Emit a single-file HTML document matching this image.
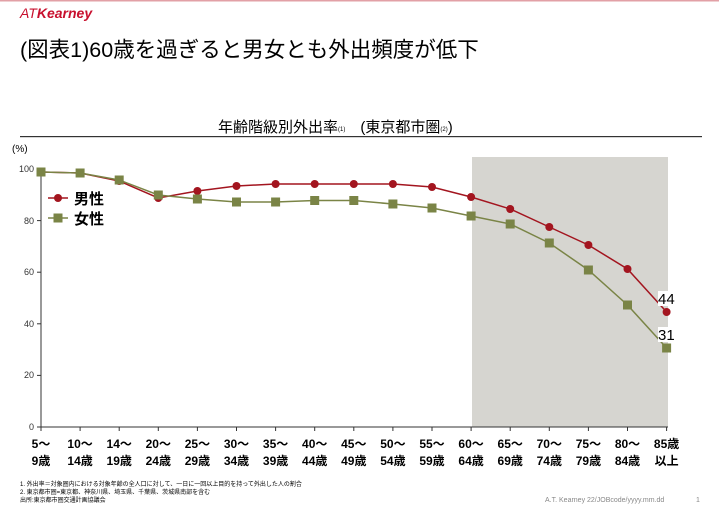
<!DOCTYPE html>
<html><head><meta charset="utf-8"><style>
html,body{margin:0;padding:0;background:#fff;}
body{width:719px;height:515px;overflow:hidden;position:relative;font-family:"Liberation Sans","Noto Sans CJK JP",sans-serif;}
</style></head><body>
<svg width="719" height="515" viewBox="0 0 719 515" xmlns="http://www.w3.org/2000/svg" style="position:absolute;left:0;top:0;font-family:'Liberation Sans','Noto Sans CJK JP',sans-serif">
<rect x="0" y="0" width="719" height="1.5" fill="#e2a0a6"/>
<text x="20" y="18" font-size="14" font-style="italic" fill="#c8102e">AT<tspan font-weight="bold">Kearney</tspan></text>
<text x="20" y="57" font-size="21.5" fill="#000">(図表1)60歳を過ぎると男女とも外出頻度が低下</text>
<text x="218" y="132" font-size="15" fill="#000">年齢階級別外出率<tspan font-size="6" dy="-1">(1)</tspan><tspan dy="1">　(東京都市圏</tspan><tspan font-size="6" dy="-1">(2)</tspan><tspan dy="1">)</tspan></text>
<rect x="20" y="136" width="682" height="1.2" fill="#333"/>
<text x="12" y="152" font-size="10" fill="#000">(%)</text>
<rect x="472" y="157" width="196" height="270" fill="#d6d5d0"/>
<g stroke="#333" stroke-width="1">
<line x1="41" y1="169" x2="41" y2="427"/>
<line x1="41" y1="427" x2="668" y2="427"/>
<line x1="37" y1="169" x2="41" y2="169"/><line x1="37" y1="220.6" x2="41" y2="220.6"/><line x1="37" y1="272.2" x2="41" y2="272.2"/><line x1="37" y1="323.8" x2="41" y2="323.8"/><line x1="37" y1="375.4" x2="41" y2="375.4"/><line x1="37" y1="427" x2="41" y2="427"/>
</g>
<g font-size="9" fill="#333" text-anchor="end">
<text x="34" y="172">100</text><text x="34" y="224">80</text><text x="34" y="275">60</text><text x="34" y="327">40</text><text x="34" y="378">20</text><text x="34" y="430">0</text>
</g>
<polyline fill="none" stroke="#a3151f" stroke-width="1.5" points="41,172 80.1,173 119.2,181 158.3,198 197.4,191 236.5,186 275.6,184 314.7,184 353.8,184 392.9,184 432,187 471.1,197 510.2,209 549.3,227 588.4,245 627.5,269 666.6,312"/>
<polyline fill="none" stroke="#7a8446" stroke-width="1.5" points="41,172 80.1,173 119.2,180 158.3,195 197.4,199 236.5,202 275.6,202 314.7,200.5 353.8,200.5 392.9,204 432,208 471.1,216 510.2,224 549.3,243 588.4,270 627.5,305 666.6,348"/>
<g fill="#a3151f">
<circle cx="41" cy="172" r="4"/><circle cx="80.1" cy="173" r="4"/><circle cx="119.2" cy="181" r="4"/><circle cx="158.3" cy="198" r="4"/><circle cx="197.4" cy="191" r="4"/><circle cx="236.5" cy="186" r="4"/><circle cx="275.6" cy="184" r="4"/><circle cx="314.7" cy="184" r="4"/><circle cx="353.8" cy="184" r="4"/><circle cx="392.9" cy="184" r="4"/><circle cx="432" cy="187" r="4"/><circle cx="471.1" cy="197" r="4"/><circle cx="510.2" cy="209" r="4"/><circle cx="549.3" cy="227" r="4"/><circle cx="588.4" cy="245" r="4"/><circle cx="627.5" cy="269" r="4"/><circle cx="666.6" cy="312" r="4"/>
</g>
<g fill="#7a8446">
<rect x="36.5" y="167.5" width="9" height="9"/><rect x="75.6" y="168.5" width="9" height="9"/><rect x="114.7" y="175.5" width="9" height="9"/><rect x="153.8" y="190.5" width="9" height="9"/><rect x="192.9" y="194.5" width="9" height="9"/><rect x="232" y="197.5" width="9" height="9"/><rect x="271.1" y="197.5" width="9" height="9"/><rect x="310.2" y="196" width="9" height="9"/><rect x="349.3" y="196" width="9" height="9"/><rect x="388.4" y="199.5" width="9" height="9"/><rect x="427.5" y="203.5" width="9" height="9"/><rect x="466.6" y="211.5" width="9" height="9"/><rect x="505.7" y="219.5" width="9" height="9"/><rect x="544.8" y="238.5" width="9" height="9"/><rect x="583.9" y="265.5" width="9" height="9"/><rect x="623" y="300.5" width="9" height="9"/><rect x="662.1" y="343.5" width="9" height="9"/>
</g>
<rect x="658" y="291" width="18" height="15" fill="#fff"/>
<text x="658" y="304" font-size="15" fill="#000">44</text>
<rect x="658" y="327" width="18" height="15" fill="#fff"/>
<text x="658" y="340" font-size="15" fill="#000">31</text>
<line x1="48" y1="198" x2="68" y2="198" stroke="#a3151f" stroke-width="1.5"/><circle cx="58" cy="198" r="4" fill="#a3151f"/>
<text x="74" y="204" font-size="15" font-weight="bold" fill="#000">男性</text>
<line x1="48" y1="218" x2="68" y2="218" stroke="#7a8446" stroke-width="1.5"/><rect x="53.5" y="213.5" width="9" height="9" fill="#7a8446"/>
<text x="74" y="224" font-size="15" font-weight="bold" fill="#000">女性</text>
<g font-size="12" font-weight="bold" fill="#000" text-anchor="middle">
<text x="41" y="448">5～</text><text x="41" y="465">9歳</text>
<text x="80.1" y="448">10～</text><text x="80.1" y="465">14歳</text>
<text x="119.2" y="448">14～</text><text x="119.2" y="465">19歳</text>
<text x="158.3" y="448">20～</text><text x="158.3" y="465">24歳</text>
<text x="197.4" y="448">25～</text><text x="197.4" y="465">29歳</text>
<text x="236.5" y="448">30～</text><text x="236.5" y="465">34歳</text>
<text x="275.6" y="448">35～</text><text x="275.6" y="465">39歳</text>
<text x="314.7" y="448">40～</text><text x="314.7" y="465">44歳</text>
<text x="353.8" y="448">45～</text><text x="353.8" y="465">49歳</text>
<text x="392.9" y="448">50～</text><text x="392.9" y="465">54歳</text>
<text x="432" y="448">55～</text><text x="432" y="465">59歳</text>
<text x="471.1" y="448">60～</text><text x="471.1" y="465">64歳</text>
<text x="510.2" y="448">65～</text><text x="510.2" y="465">69歳</text>
<text x="549.3" y="448">70～</text><text x="549.3" y="465">74歳</text>
<text x="588.4" y="448">75～</text><text x="588.4" y="465">79歳</text>
<text x="627.5" y="448">80～</text><text x="627.5" y="465">84歳</text>
<text x="666.6" y="448">85歳</text><text x="666.6" y="465">以上</text>
</g>
<g stroke="#333" stroke-width="1">
<line x1="41" y1="427" x2="41" y2="431"/><line x1="80.1" y1="427" x2="80.1" y2="431"/><line x1="119.2" y1="427" x2="119.2" y2="431"/><line x1="158.3" y1="427" x2="158.3" y2="431"/><line x1="197.4" y1="427" x2="197.4" y2="431"/><line x1="236.5" y1="427" x2="236.5" y2="431"/><line x1="275.6" y1="427" x2="275.6" y2="431"/><line x1="314.7" y1="427" x2="314.7" y2="431"/><line x1="353.8" y1="427" x2="353.8" y2="431"/><line x1="392.9" y1="427" x2="392.9" y2="431"/><line x1="432" y1="427" x2="432" y2="431"/><line x1="471.1" y1="427" x2="471.1" y2="431"/><line x1="510.2" y1="427" x2="510.2" y2="431"/><line x1="549.3" y1="427" x2="549.3" y2="431"/><line x1="588.4" y1="427" x2="588.4" y2="431"/><line x1="627.5" y1="427" x2="627.5" y2="431"/><line x1="666.6" y1="427" x2="666.6" y2="431"/>
</g>
<g font-size="6" fill="#000">
<text x="20" y="486">1.  外出率＝対象圏内における対象年齢の全人口に対して、一日に一回以上目的を持って外出した人の割合</text>
<text x="20" y="494">2.  東京都市圏=東京都、神奈川県、埼玉県、千葉県、茨城県南部を含む</text>
<text x="20" y="502">出所:東京都市圏交通計画協議会</text>
</g>
<text x="545" y="502" font-size="7" fill="#888">A.T. Kearney 22/JOBcode/yyyy.mm.dd</text>
<text x="696" y="502" font-size="7" fill="#888">1</text>
</svg>
</body></html>
